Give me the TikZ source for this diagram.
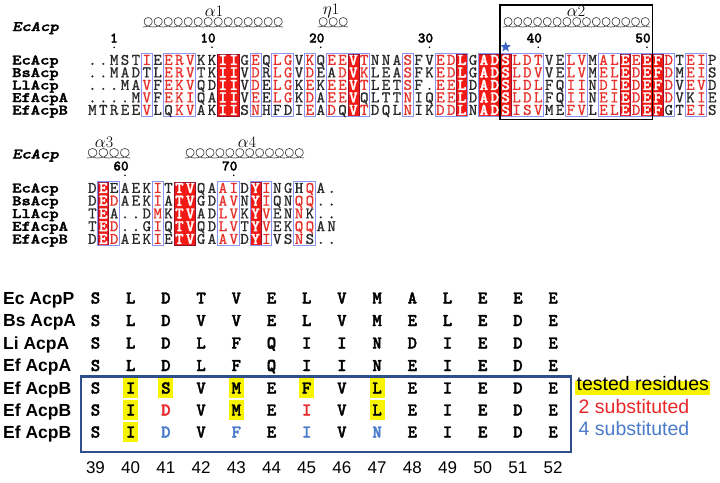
\documentclass[tikz,border=0pt]{standalone}
\usepackage{fontspec}
\usetikzlibrary{shapes.geometric}
\newfontfamily\sansf{Liberation Sans}
\newfontfamily\resmono[FakeBold=0.8]{lmmono10-regular.otf}
\newfontfamily\boldmono[FakeBold=2]{lmmonolt10-bold.otf}
\newfontfamily\boldmonoit[FakeBold=2]{lmmonolt10-boldoblique.otf}
\definecolor{resgray}{HTML}{2A2A2A}
\definecolor{resred}{HTML}{E8302A}
\definecolor{boxred}{HTML}{F21A14}
\definecolor{boxedge}{HTML}{9A1030}
\definecolor{framec}{HTML}{8C94F0}
\definecolor{starblue}{HTML}{3A62C8}
\definecolor{panelblue}{HTML}{2E4E8C}
\definecolor{subred}{HTML}{E82828}
\definecolor{subblue}{HTML}{4A7CCB}
\definecolor{hl}{HTML}{F8F400}
\newcommand\resfont{\resmono\fontsize{16.2}{16}\selectfont}
\newcommand\resbfont{\boldmono\fontsize{16.2}{16}\selectfont}
\newcommand\labfont{\boldmono\fontsize{14.5}{15}\selectfont}
\newcommand\titfont{\boldmonoit\fontsize{14.5}{15}\selectfont}
\newcommand\numfont{\boldmono\fontsize{14.5}{15}\selectfont}
\newcommand\panfont{\sansf\bfseries\fontsize{17.5}{18}\selectfont}
\newcommand\panresfont{\boldmono\fontsize{18}{18}\selectfont}
\newcommand\pannumfont{\sansf\fontsize{17}{17}\selectfont}
\newcommand\legfont{\sansf\fontsize{19.5}{20}\selectfont}
\tikzset{
  res/.style={anchor=base,inner sep=0pt,font=\resfont,text=resgray},
  resr/.style={res,text=resred},
  resw/.style={anchor=base,inner sep=0pt,text=white,font=\resbfont},
  seqlab/.style={anchor=base west,inner sep=0pt,font=\labfont,xscale=1.22,transform shape},
  seqtitle/.style={anchor=base west,inner sep=0pt,font=\titfont,xscale=1.22,transform shape},
  posnum/.style={anchor=base east,inner sep=0pt,font=\numfont},
  sslab/.style={anchor=center,inner sep=0pt,font=\fontsize{16}{16}\selectfont},
  helixline/.style={line width=0.65pt,draw=black!75},
  frm/.style={draw=framec,line width=0.8pt},
  rbox/.style={fill=boxred,draw=boxedge,line width=0.5pt},
  panlab/.style={anchor=base west,inner sep=0pt,font=\panfont},
  panres/.style={anchor=base,inner sep=0pt,font=\panresfont,text=black},
  pannum/.style={anchor=base,inner sep=0pt,font=\pannumfont},
  legend/.style={anchor=west,inner xsep=1.5pt,inner ysep=2pt,font=\legfont,text height=0.74em,text depth=0.22em}
}
\ExplSyntaxOn
\int_new:N \l__rs_col_int
\tl_new:N \l__rs_col_tl
\tl_new:N \l__rs_x_tl
\tl_new:N \l__rs_y_tl
\tl_new:N \l__rs_style_tl
\NewDocumentCommand \seqrow { m m m m m }
 {
  \int_zero:N \l__rs_col_int
  \tl_map_inline:nn {#5}
   {
    \tl_set:Nx \l__rs_col_tl { \int_use:N \l__rs_col_int }
    \tl_set:Nx \l__rs_x_tl { \fp_eval:n { #2 + 10.875 * \l__rs_col_int } }
    \tl_set:Nx \l__rs_y_tl { \fp_eval:n { #3 + 4.9 } }
    \clist_if_in:nVTF {#4} \l__rs_col_tl
     { \tl_set:Nn \l__rs_style_tl {resw} }
     {
      \int_compare:nNnTF { `##1 } > { 96 }
       { \tl_set:Nn \l__rs_style_tl {resr} }
       { \tl_set:Nn \l__rs_style_tl {res} }
     }
    \use:x { \exp_not:N \node [ \l__rs_style_tl ] ~ ( #1c\l__rs_col_tl ) ~ at ~ ( \l__rs_x_tl , \l__rs_y_tl ) ~ { \str_uppercase:n {##1} } ; }
    \int_incr:N \l__rs_col_int
   }
 }
\NewDocumentCommand \panrow { m m m m }
 {
  \int_zero:N \l__rs_col_int
  \tl_map_inline:nn {#4}
   {
    \tl_set:Nx \l__rs_x_tl { \fp_eval:n { 95.5 + 35.2 * \l__rs_col_int } }
    \tl_set:Nx \l__rs_y_tl { \fp_eval:n { #2 + 5.5 } }
    \int_compare:nNnTF { `##1 } > { 96 }
     { \tl_set:Nn \l__rs_style_tl { panres,text=#3 } }
     { \tl_set:Nn \l__rs_style_tl { panres } }
    \use:x { \exp_not:N \node [ \l__rs_style_tl ] ~ ( #1c\int_use:N \l__rs_col_int ) ~ at ~ ( \l__rs_x_tl , \l__rs_y_tl ) ~ { \str_uppercase:n {##1} } ; }
    \int_incr:N \l__rs_col_int
   }
 }
\ExplSyntaxOff
\newcommand\colframe[5]{\draw[frm] ({#1+10.875*#2-5.44},#4) rectangle ({#1+10.875*#3+5.44},#5);}
\newcommand\colred[5]{\path[rbox] ({#1+10.875*#2-5.44},#4) rectangle ({#1+10.875*#3+5.44},#5);}
% helix: x0, baseline y, number of loops, loop width
\newcommand\helixat[4]{%
 \draw[helixline] (#1,#2) \foreach \i in {1,...,#3}{
   .. controls ({#1+(\i-1)*#4+0.45*#4},#2) and ({#1+(\i-1)*#4+0.92*#4},#2-2) .. ({#1+(\i-1)*#4+0.92*#4},#2-5)
   .. controls ({#1+(\i-1)*#4+0.92*#4},#2-8.3) and ({#1+(\i-1)*#4+0.7*#4},#2-9.5) .. ({#1+(\i-1)*#4+0.52*#4},#2-9.5)
   .. controls ({#1+(\i-1)*#4+0.3*#4},#2-9.5) and ({#1+(\i-1)*#4+0.12*#4},#2-8.2) .. ({#1+(\i-1)*#4+0.12*#4},#2-5)
   .. controls ({#1+(\i-1)*#4+0.12*#4},#2-1.8) and ({#1+(\i-1)*#4+0.6*#4},#2) .. ({#1+\i*#4},#2)
 };}
\begin{document}
\begin{tikzpicture}[x=1pt,y=-1pt]
\useasboundingbox (0,0) rectangle (720,482);
\fill[white] (0,0) rectangle (720,482);
% ---------------- block 1 ----------------
\node[seqtitle] (t1) at (12,31) {EcAcp};
\node[sslab] (a1) at (214,11) {$\alpha$1};
\node[sslab] (e1) at (331,11) {$\eta$1};
\node[sslab] (a2) at (576,11) {$\alpha$2};
\helixat{143}{27}{14}{10}
\helixat{318}{27}{3}{10}
\helixat{503}{27}{15}{9.8}
\foreach \c/\t [count=\k] in {2/1,11/10,21/20,31/30,41/40,51/50}{
  \node[posnum] (p1n\k) at ({92.4+10.875*\c+3.8},42.5) {\t};
  \fill ({92.4+10.875*\c},47.3) circle (0.9);
}
\node[star,star points=5,star point ratio=2.4,fill=starblue,inner sep=0pt,minimum size=11pt] (star) at ({92.4+10.875*38},47) {};
\foreach \a/\b in {12/13,24/24,34/34,36/38,49/49,51/52}{\colred{92.4}{\a}{\b}{53.8}{116.2}}
\foreach \a/\b in {5/5,7/9,15/15,17/18,20/20,22/25,29/29,32/34,36/41,44/45,47/53,55/56}{\colframe{92.4}{\a}{\b}{53.2}{116.8}}
\node[seqlab] (l11) at (12,64.5) {EcAcp};
\node[seqlab] (l12) at (12,77) {BsAcp};
\node[seqlab] (l13) at (12,89.5) {LlAcp};
\node[seqlab] (l14) at (12,102) {EfAcpA};
\node[seqlab] (l15) at (12,114.5) {EfAcpB};
\seqrow{b1r1}{92.4}{60}{12,13,24,34,36,37,38,49,51,52}{..MSTiEervKKIIGeQlgVkQeeVtNNAsFVedLGADSldtVElvMalEeEFdTeiP}
\seqrow{b1r2}{92.4}{72.5}{12,13,24,34,36,37,38,49,51,52}{..MADTLervTKIIVdRlgVdEAdVkLEAsFKedLGADSldvVElvMelEdEFdMeiS}
\seqrow{b1r3}{92.4}{85}{12,13,24,34,36,37,38,49,51,52}{...MAvFekvQDIIVdElgKeKeeVtLETsF.eeLDADSldlFQiiNdiEdEFdVevD}
\seqrow{b1r4}{92.4}{97.5}{12,13,24,34,36,37,38,49,51,52}{....MvFekiQAIIVeElgKdAeeVQLTTnIQeeLDADSldlFQiiNeiEdEFdVKiE}
\seqrow{b1r5}{92.4}{110}{12,13,24,34,36,37,38,49,51,52}{MTREEvLQkvAKIISnHFDIeAdQVtDQLnIKddLNADSisvMEfvLelEdEFGTeiS}
\draw[black,line width=1.6pt] (500.2,5) rectangle (652.6,119.5);
% ---------------- block 2 ----------------
\node[sslab] (a3) at (104,142) {$\alpha$3};
\node[sslab] (a4) at (247,142) {$\alpha$4};
\node[seqtitle] (t2) at (12,158.5) {EcAcp};
\helixat{87}{158}{4}{10.75}
\helixat{185}{158}{12}{9.92}
\foreach \c/\t [count=\k] in {3/60,13/70}{
  \node[posnum] (p2n\k) at ({92.4+10.875*\c+3.8},170.5) {\t};
  \fill ({92.4+10.875*\c},175.3) circle (0.9);
}
\foreach \a/\b in {1/1,8/9,15/15}{\colred{92.4}{\a}{\b}{181.8}{245.2}}
\foreach \a/\b in {1/2,6/6,12/13,15/16,19/20}{\colframe{92.4}{\a}{\b}{181.2}{245.8}}
\node[seqlab] (l21) at (12,192.5) {EcAcp};
\node[seqlab] (l22) at (12,205.25) {BsAcp};
\node[seqlab] (l23) at (12,218) {LlAcp};
\node[seqlab] (l24) at (12,230.75) {EfAcpA};
\node[seqlab] (l25) at (12,243.5) {EfAcpB};
\seqrow{b2r1}{92.4}{188}{1,8,9,15}{DeEAEKiTTVQAaiDYiNGHqA.}
\seqrow{b2r2}{92.4}{200.75}{1,8,9,15}{DEdAEKiATVGDavNYiQNqq..}
\seqrow{b2r3}{92.4}{213.5}{1,8,9,15}{TEA..DmKTVADlvKYvENnK..}
\seqrow{b2r4}{92.4}{226.25}{1,8,9,15}{TEd..GiQTVQDlvTYvEKqqAN}
\seqrow{b2r5}{92.4}{239}{1,8,9,15}{DEdAEKiETVGAavDYiVSnS..}
% ---------------- bottom panel ----------------
\foreach \y/\c in {388/1,388/2,388/4,388/6,388/8,410/1,410/4,410/8,432/1}{
  \fill[hl] ({95.5+35.2*\c-7.5},\y-10.3) rectangle ({95.5+35.2*\c+7.5},\y+10.3);
}
\node[panlab] (q1) at (3,304.2) {Ec AcpP};
\node[panlab] (q2) at (3,326.7) {Bs AcpA};
\node[panlab] (q3) at (3,349.2) {Li AcpA};
\node[panlab] (q4) at (3,371.7) {Ef AcpA};
\node[panlab] (q5) at (3,394.2) {Ef AcpB};
\node[panlab] (q6) at (3,416.2) {Ef AcpB};
\node[panlab] (q7) at (3,438.2) {Ef AcpB};
\panrow{pr1}{298}{black}{SLDTVELVMALEEE}
\panrow{pr2}{320.5}{black}{SLDVVELVMELEDE}
\panrow{pr3}{343}{black}{SLDLFQIINDIEDE}
\panrow{pr4}{365.5}{black}{SLDLFQIINEIEDE}
\panrow{pr5}{388}{black}{SISVMEFVLEIEDE}
\panrow{pr6}{410}{subred}{SIdVMEiVLEIEDE}
\panrow{pr7}{432}{subblue}{SIdVfEiVnEIEDE}
\draw[panelblue,line width=2.2pt] (81,376.5) rectangle (571,452);
\foreach \n [count=\i from 0] in {39,40,41,42,43,44,45,46,47,48,49,50,51,52}{
  \node[pannum] (num\n) at ({95.5+35.2*\i},473.5) {\n};
}
\node[legend,fill=hl] (leg1) at (575,388) {tested residues};
\node[legend,text=subred] (leg2) at (577,410.5) {2 substituted};
\node[legend,text=subblue] (leg3) at (577,432.5) {4 substituted};
\end{tikzpicture}
\end{document}
